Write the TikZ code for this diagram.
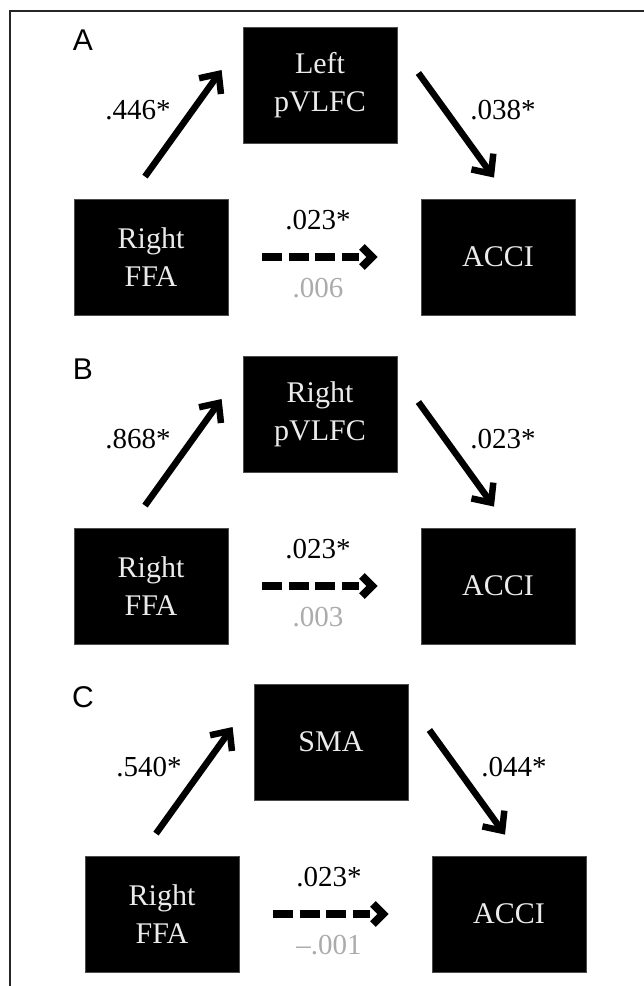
\documentclass[tikz,border=0pt]{standalone}
\usepackage{fontspec}
\setmainfont{Liberation Serif}
\newfontfamily\panelfont{Liberation Sans}
\usetikzlibrary{arrows.meta}

\tikzset{
  region/.style={fill=black,draw=black!70,line width=0.8pt,minimum width=154pt,minimum height=116pt,
    inner sep=0pt,align=center,text=white!92!black,font=\fontsize{30}{38}\selectfont},
  coef/.style={inner sep=0pt,font=\fontsize{29}{34}\selectfont},
  direct/.style={coef,text=black!33},
  panel/.style={inner sep=0pt,font=\panelfont\fontsize{30}{34}\selectfont},
  pathway/.style={line width=6.5pt,-{Straight Barb[length=15pt,width=27pt]}},
  % four dashes, then a gap before the head
  directpath/.style={line width=8pt,
    dash pattern=on 20pt off 6.5pt on 20pt off 6.5pt on 20pt off 6.5pt on 17pt off 40pt,
    -{Straight Barb[length=10pt,width=20pt]}}
}

\begin{document}
\begin{tikzpicture}[x=1pt,y=-1pt]
    \useasboundingbox (0,0) rectangle (644,986);
    % frame
    \draw[line width=2.5pt,black!85] (10,986) -- (10,11) -- (644,11);

    \foreach \p/\dx/\dy/\med/\ca/\cb/\cd in {A/0/0/{Left\\pVLFC}/.446*/.038*/.006,
                                             B/0/329/{Right\\pVLFC}/.868*/.023*/.003,
                                             C/11/657/SMA/.540*/.044*/–.001}
    {
        \begin{scope}[shift={(\dx,\dy)}]
            \node[panel] (lbl\p) at ({83-\dx},40) {\p};
            \node[region] (med\p) at (320,85) {\med};
            \node[region] (ffa\p) at (151,257) {Right\\FFA};
            \node[region] (acc\p) at (498,257) {ACCI};
            \draw[pathway] ([shift={(-6,-22)}]ffa\p.north) -- ([shift={(-21,-15)}]med\p.west);
            \draw[pathway] ([shift={(21,-12)}]med\p.east) -- ([shift={(-4,-21)}]acc\p.north);
            \draw[directpath] ([xshift=34pt]ffa\p.east) -- ([xshift=-43pt]acc\p.west);
            \node[coef] (ab\p) at (138,110) {\ca};
            \node[coef] (bc\p) at (503,110) {\cb};
            \node[coef] (tot\p) at (318,220) {.023*};
            \node[direct] (dir\p) at (318,288) {\cd};
        \end{scope}
    }
\end{tikzpicture}
\end{document}
